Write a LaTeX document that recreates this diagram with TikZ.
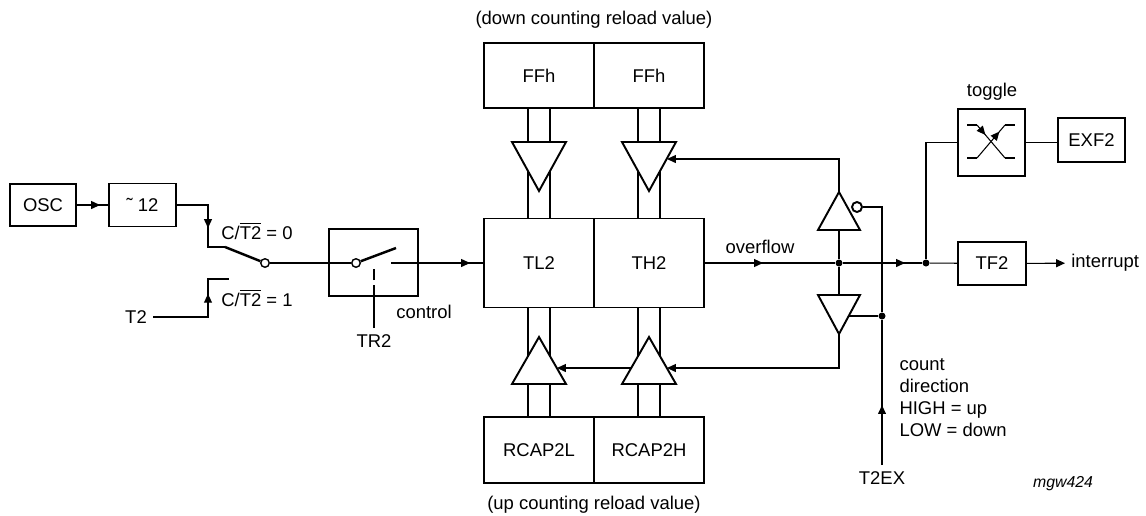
\documentclass[tikz,border=0pt]{standalone}
\usepackage{fontspec}
\setmainfont{Liberation Sans}
\usetikzlibrary{arrows.meta,positioning,decorations.markings,calc}

\begin{document}
\begin{tikzpicture}[x=0.02cm, y=-0.02cm, line width=0.6pt,
    font=\fontsize{10.5}{12.5}\selectfont,
    box/.style={rectangle, draw, line width=1.1pt, inner sep=0pt, outer sep=0pt},
    buf/.style={draw, line width=1.1pt, fill=white},
    dot/.style={circle, fill, inner sep=0pt, minimum size=0.14cm},
    pin/.style={circle, draw, line width=0.8pt, fill=white, inner sep=0pt, minimum size=0.17cm},
    tipat/.style={postaction={decorate}, decoration={markings,
        mark=at position #1 with {\arrow{Triangle[length=5pt,width=4.5pt]}}}},
    endtip/.style={-{Triangle[length=5pt,width=4.5pt]}}]
    \useasboundingbox (0,0) rectangle (1146,515);

    % clock and prescaler
    \node[box, minimum width=1.32cm, minimum height=0.84cm] (osc) at (43,205) {OSC};
    \node[box, minimum width=1.34cm, minimum height=0.86cm] (div) at (142.5,205) {˜ 12};
    \draw[tipat=-0.18cm] (osc) -- (div);

    % C/T2 select switch
    \coordinate (sel0) at (225,247);
    \coordinate (sel1) at (229,279);
    \node[pin] (pv1) at (265,263) {};
    \node (t2) at (136,317) {T2};
    \draw[tipat=1.1cm] (div.east) -| (208,247) -- (sel0);
    \draw[tipat=1.56cm] (t2) -| (208,279) -- (sel1);
    \draw[line width=1.4pt] (sel0) -- (pv1);
    \node[anchor=west] at (215,231) {C/$\overline{\mbox{T2}}$ = 0};
    \node[anchor=west] at (215,298) {C/$\overline{\mbox{T2}}$ = 1};

    % run control
    \node[box, minimum width=1.78cm, minimum height=1.34cm] (gate) at (373.5,262.5) {};
    \node[pin] (pv2) at (356,263) {};
    \coordinate (gout) at (391,263);
    \draw (pv1) -- (pv2);
    \draw[line width=1.4pt] (pv2) -- (396,248);
    \node (tr2) at (374,341) {TR2};
    \draw (tr2) -- (tr2 |- gate.south);
    \draw[dash pattern=on 0.22cm off 0.1cm] (tr2 |- gate.south) -- (374,265);
    \node at (424,312) {control};

    % timer registers
    \node[box, minimum width=2.2cm, minimum height=1.78cm] (tl) at (539,263) {TL2};
    \node[box, minimum width=2.2cm, minimum height=1.78cm, right=0pt of tl] (th) {TH2};
    \node[box, minimum width=2.2cm, minimum height=1.3cm] (ffl) at (539,75.5) {FFh};
    \node[box, minimum width=2.2cm, minimum height=1.3cm, right=0pt of ffl] (ffh) {FFh};
    \node[box, minimum width=2.2cm, minimum height=1.32cm] (rcl) at (539,450) {RCAP2L};
    \node[box, minimum width=2.2cm, minimum height=1.32cm, right=0pt of rcl] (rch) {RCAP2H};
    \node at (594,20) {(down counting reload value)};
    \node at (594,505) {(up counting reload value)};
    \draw[tipat=-0.28cm] (gout) -- (tl.west);

    \foreach \col/\x in {l/539, h/649} {
        \draw ([xshift=-0.22cm]ff\col.south) -- ([xshift=-0.22cm]t\col.north);
        \draw ([xshift=0.22cm]ff\col.south) -- ([xshift=0.22cm]t\col.north);
        \draw ([xshift=-0.22cm]t\col.south) -- ([xshift=-0.22cm]rc\col.north);
        \draw ([xshift=0.22cm]t\col.south) -- ([xshift=0.22cm]rc\col.north);
        \draw[buf] (\x-27,142) -- (\x+27,142) -- (\x,191) -- cycle;
        \draw[buf] (\x-27,384) -- (\x+27,384) -- (\x,337) -- cycle;
    }

    % direction logic
    \node[dot] (ovf) at (839,263) {};
    \draw[tipat=1.18cm] (th.east) -- (ovf);
    \node at (760,247) {overflow};
    \coordinate (upa) at (839,192);
    \coordinate (upb) at (839,230);
    \coordinate (dnt) at (839,295);
    \coordinate (dnb) at (839,334);
    \coordinate (dnc) at (849,316);
    \draw[buf] (818,230) -- (860,230) -- (upa) -- cycle;
    \draw[buf] (818,295) -- (860,295) -- (dnb) -- cycle;
    \node[pin, minimum size=0.2cm, line width=1.1pt] (inv) at (857,207) {};
    \draw (upb) -- (ovf) -- (dnt);
    \draw[endtip] (upa) |- (667,159);
    \draw[endtip] (dnb) |- (667,368);
    \draw[endtip] (631,368) -- (557,368);

    \node (t2ex) at (882,478) {T2EX};
    \node[dot] (dir) at (882,316) {};
    \draw[tipat=1.2cm] (t2ex) -- (dir);
    \draw (dir) |- (inv);
    \draw (dnc) -- (dir);
    \node[anchor=north west, align=left, inner sep=0pt] at (899,358) {count\\direction\\HIGH = up\\LOW = down};

    % flags
    \node[box, minimum width=1.36cm, minimum height=0.86cm] (tf2) at (992,263.5) {TF2};
    \node[dot] (fork) at (926,263) {};
    \draw[tipat=-0.34cm] (ovf) -- (fork);
    \draw (fork) -- (tf2);
    \node[anchor=west] (irq) at (1065,263) {interrupt};
    \draw[endtip] (tf2) -- (irq);

    \node[box, minimum width=1.34cm, minimum height=1.34cm] (tog) at (991.5,142.5) {};
    \node at (992,92) {toggle};
    \node[box, minimum width=1.34cm, minimum height=0.88cm] (exf) at (1091.5,140) {EXF2};
    \draw (fork) |- (tog);
    \draw (tog.east) -- (tog.east -| exf.west);
    \draw (967,125) -- (977,125);
    \draw[tipat=0.3] (977,125) -- (1005,158);
    \draw (1005,158) -- (1015,158);
    \draw (967,158) -- (977,158);
    \draw[tipat=0.8] (977,158) -- (1005,125);
    \draw (1005,125) -- (1015,125);

    \node[font=\fontsize{9}{11}\selectfont\itshape] at (1063,484) {mgw424};
\end{tikzpicture}
\end{document}
